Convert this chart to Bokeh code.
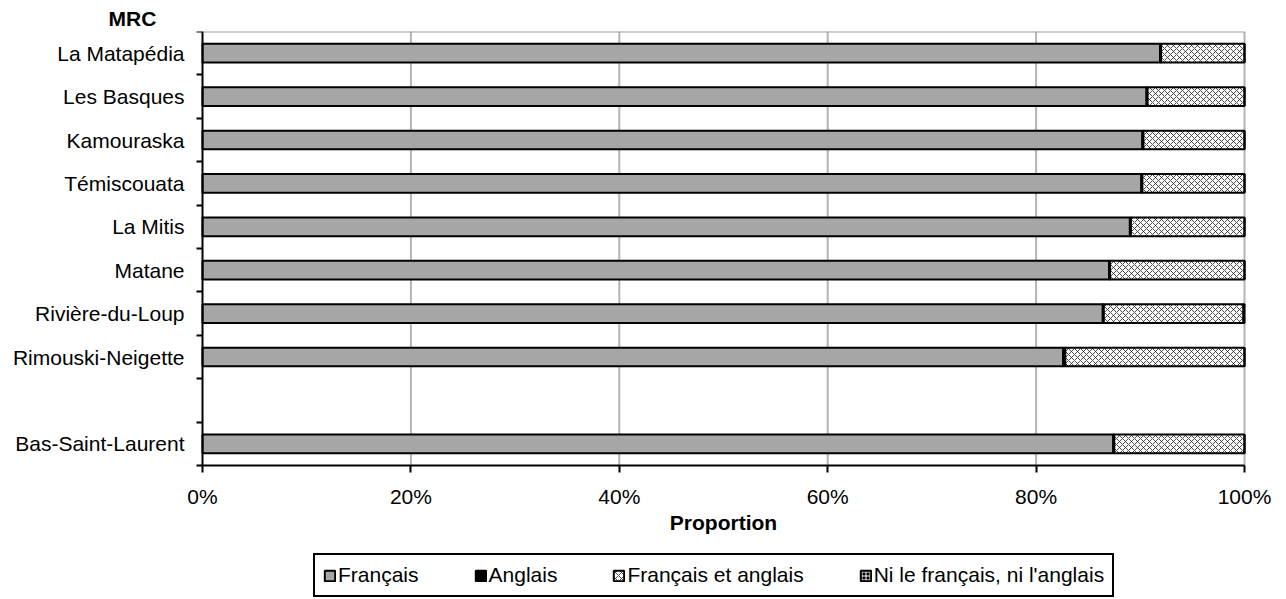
from bokeh.plotting import figure
from bokeh.models import Range1d, FixedTicker, Legend, LegendItem, ColumnDataSource
from bokeh.transform import stack
from bokeh.embed import file_html
from bokeh.resources import INLINE

# Rows from top to bottom ("" = empty slot)
rows = ["La Matapédia", "Les Basques", "Kamouraska", "Témiscouata", "La Mitis",
        "Matane", "Rivière-du-Loup", "Rimouski-Neigette", "", "Bas-Saint-Laurent"]
categories = ["La Matapédia", "Les Basques", "Kamouraska", "Témiscouata", "La Mitis",
              "Matane", "Rivière-du-Loup", "Rimouski-Neigette", "Bas-Saint-Laurent"]
francais = [91.9, 90.6, 90.2, 90.1, 89.0, 87.0, 86.4, 82.6, 87.4]
anglais = [0.1, 0.1, 0.1, 0.1, 0.1, 0.1, 0.1, 0.2, 0.1]
fr_et_en = [8.0, 9.3, 9.7, 9.8, 10.9, 12.9, 13.4, 17.2, 12.5]
ni_fr_ni_en = [0.0, 0.0, 0.0, 0.0, 0.0, 0.0, 0.1, 0.0, 0.0]
series_names = ["Français", "Anglais", "Français et anglais", "Ni le français, ni l'anglais"]
x_ticks = [0, 20, 40, 60, 80, 100]
x_tick_labels = ["0%", "20%", "40%", "60%", "80%", "100%"]

FONT = "Liberation Sans"
FS = "21px"

# layout (pixels): bar area and the full frame that also holds labels/legend
PLOT_LEFT, PLOT_W = 202, 1042
FRAME_W = 1280
PLOT_H = 434
FRAME_H = 568

n = len(rows)
ypos = [n - rows.index(c) - 0.5 for c in categories]
src = ColumnDataSource(dict(y=ypos, fr=francais, en=anglais, fe=fr_et_en, ni=ni_fr_ni_en))

px = PLOT_W / (x_ticks[-1] - x_ticks[0])
x_min = x_ticks[0] - PLOT_LEFT / px
x_max = x_ticks[0] + (FRAME_W - PLOT_LEFT) / px
y_min = -n * (FRAME_H - PLOT_H) / PLOT_H

p = figure(frame_width=FRAME_W, frame_height=FRAME_H, min_border_left=0, min_border_top=31,
           min_border_right=0, min_border_bottom=0,
           x_range=Range1d(x_min, x_max), y_range=Range1d(y_min, n),
           output_backend="svg", toolbar_location=None, tools="")
p.background_fill_color = "white"
p.border_fill_color = "white"
p.outline_line_color = None
p.xgrid.grid_line_color = None
p.ygrid.grid_line_color = None

p.title.text = "MRC"
p.title.text_font = FONT
p.title.text_font_size = FS
p.title.text_font_style = "bold"
p.title.text_color = "black"
p.title.align = "left"
p.title.offset = 108
p.title.standoff = 3
p.title.vertical_align = "bottom"

# vertical gridlines (bar area only) and top border line of the plot area
p.segment(x0=x_ticks[1:], x1=x_ticks[1:], y0=0, y1=n, line_color="#b4b4b4", line_width=2,
          level="underlay")
p.segment(x0=[x_ticks[0]], x1=[x_ticks[-1]], y0=[n], y1=[n], line_color="#a0a0a0",
          line_width=2, level="underlay")

H = 0.43
styles = [
    dict(fill_color="#a6a6a6"),
    dict(fill_color="black"),
    dict(fill_color="white", hatch_pattern="diagonal_cross", hatch_color="#1e1e1e",
         hatch_scale=6, hatch_weight=0.8),
    dict(fill_color="black", hatch_pattern="cross", hatch_color="white",
         hatch_scale=4, hatch_weight=1),
]
keys = ["fr", "en", "fe", "ni"]
renderers = []
for i, k in enumerate(keys):
    r = p.hbar(y="y", height=H, left=stack(*keys[:i]) if i else 0, right=stack(*keys[:i + 1]),
               source=src, line_color="black", line_width=2, **styles[i])
    renderers.append(r)

# x axis, drawn at y = 0
p.xaxis.fixed_location = 0
p.xaxis.bounds = (x_ticks[0], x_ticks[-1])
p.xaxis.ticker = FixedTicker(ticks=x_ticks)
p.xaxis.major_label_overrides = {t: l for t, l in zip(x_ticks, x_tick_labels)}
p.xaxis.major_tick_out = 7
p.xaxis.major_tick_in = 0
p.xaxis.minor_tick_out = 0
p.xaxis.axis_line_width = 2
p.xaxis.axis_line_color = "black"
p.xaxis.major_tick_line_width = 2
p.xaxis.major_label_standoff = 12
p.xaxis.major_label_text_font = FONT
p.xaxis.major_label_text_font_size = FS
p.xaxis.major_label_text_color = "black"
p.xaxis.axis_label = "Proportion"
p.xaxis.axis_label_text_font = FONT
p.xaxis.axis_label_text_font_size = FS
p.xaxis.axis_label_text_font_style = "bold"
p.xaxis.axis_label_text_color = "black"
p.xaxis.axis_label_standoff = 0

# y axis, drawn at x = 0
centers = [n - i - 0.5 for i in range(n)]
bounds = list(range(n + 1))
p.yaxis.fixed_location = 0
p.yaxis.bounds = (0, n)
p.yaxis.ticker = FixedTicker(ticks=centers, minor_ticks=bounds)
p.yaxis.major_label_overrides = {c: r for c, r in zip(centers, rows)}
p.yaxis.major_tick_out = 0
p.yaxis.major_tick_in = 0
p.yaxis.minor_tick_out = 6
p.yaxis.minor_tick_in = 0
p.yaxis.minor_tick_line_width = 2
p.yaxis.minor_tick_line_color = "black"
p.yaxis.axis_line_width = 2
p.yaxis.axis_line_color = "black"
p.yaxis.major_label_standoff = 12
p.yaxis.major_label_text_font = FONT
p.yaxis.major_label_text_font_size = FS
p.yaxis.major_label_text_color = "black"

legend = Legend(items=[LegendItem(label=s, renderers=[r]) for s, r in zip(series_names, renderers)],
                orientation="horizontal", location=(313, 2),
                border_line_color="black", border_line_width=2, border_line_alpha=1,
                background_fill_color="white", background_fill_alpha=1,
                padding=8, spacing=55, label_standoff=2,
                glyph_width=13, glyph_height=13, label_text_font=FONT, label_text_font_size=FS,
                label_text_color="black", label_height=20, margin=0)
p.add_layout(legend)

open("out.html", "w").write(file_html(p, INLINE))
